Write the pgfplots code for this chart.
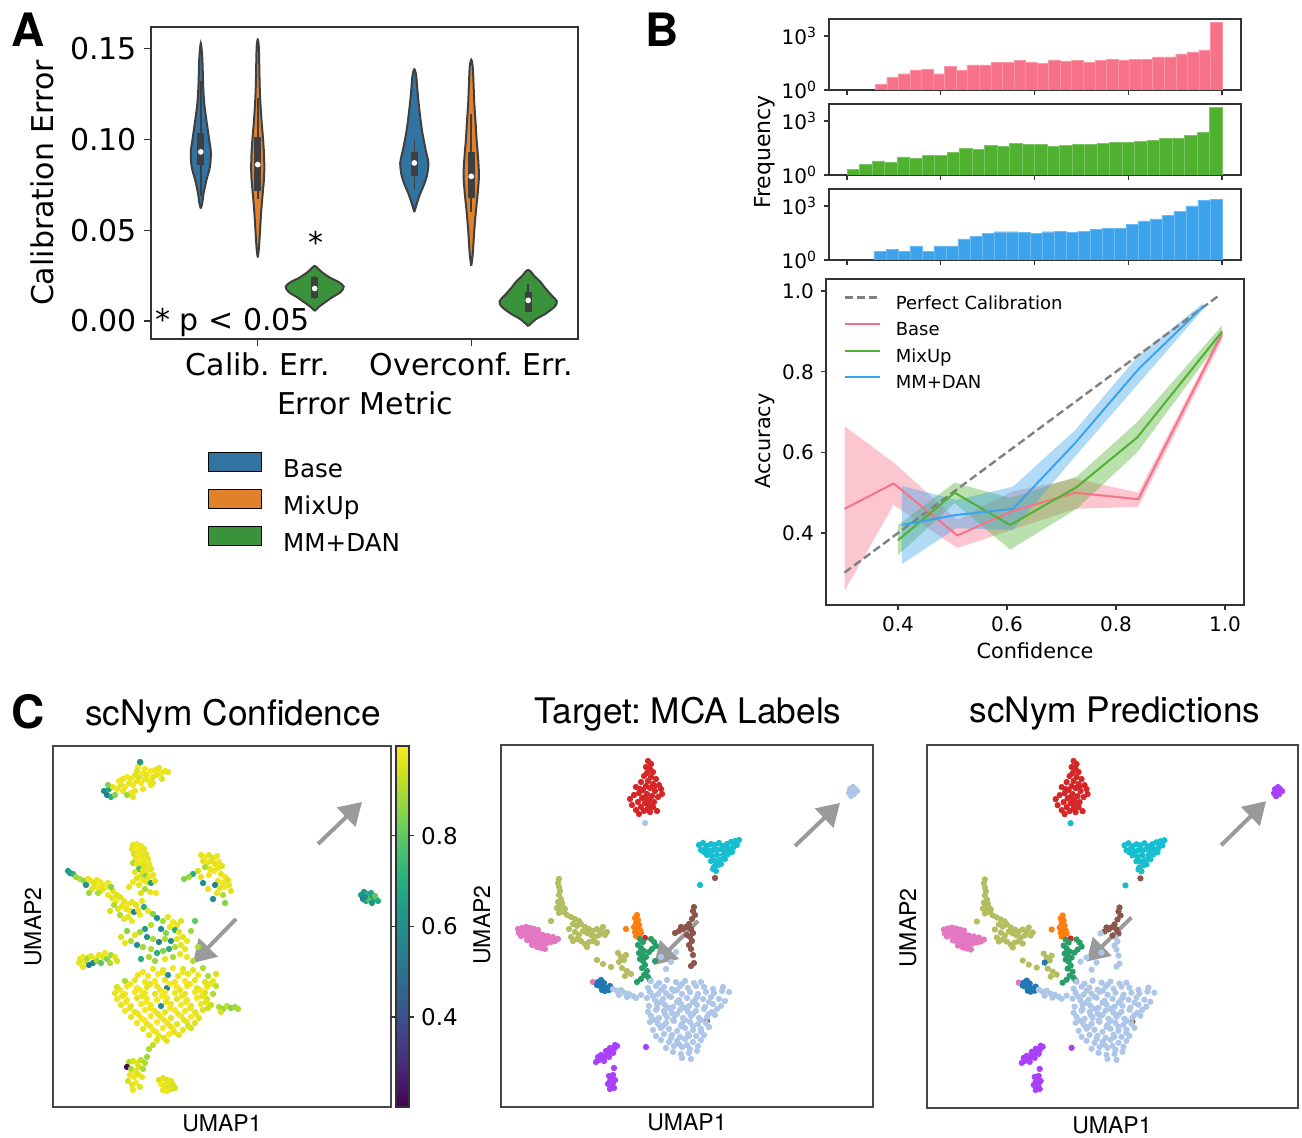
\documentclass[border=0pt]{standalone}
\usepackage{fontspec}
\setmainfont{DejaVu Sans}
\newfontfamily\heros{TeX Gyre Heros}
\usepackage{pgfplots}
\pgfplotsset{compat=1.18}
\usepackage{pgfplotstable}
\usepgfplotslibrary{colormaps}
\usetikzlibrary{arrows.meta}
\frenchspacing

\definecolor{cBase}{HTML}{3274A1}
\definecolor{cMix}{HTML}{E1812C}
\definecolor{cMM}{HTML}{3A923A}
\definecolor{vedge}{HTML}{3F3F3F}
\definecolor{hPink}{HTML}{F77189}
\definecolor{hGreen}{HTML}{50B131}
\definecolor{hBlue}{HTML}{3BA3EC}
\definecolor{frame}{HTML}{333333}
\definecolor{arr}{HTML}{9A9A9A}
\definecolor{kA}{HTML}{AEC7E8}
\definecolor{kB}{HTML}{D62728}
\definecolor{kC}{HTML}{17BECF}
\definecolor{kD}{HTML}{B5BD61}
\definecolor{kE}{HTML}{E377C2}
\definecolor{kF}{HTML}{FF7F0E}
\definecolor{kG}{HTML}{279E68}
\definecolor{kH}{HTML}{8C564B}
\definecolor{kI}{HTML}{1F77B4}
\definecolor{kJ}{HTML}{AA40FC}

\newcommand{\fA}{\fontsize{15}{18}\selectfont}
\newcommand{\fAl}{\fontsize{12.3}{14}\selectfont}
\newcommand{\fB}{\fontsize{10}{12}\selectfont}
\newcommand{\fBl}{\fontsize{9}{11}\selectfont}
\newcommand{\fC}{\heros\fontsize{17.6}{20}\selectfont}
\newcommand{\fCl}{\heros\fontsize{11.5}{13}\selectfont}
\newcommand{\fCb}{\fontsize{11.5}{13}\selectfont}

\pgfplotsset{
  panel/.style={scale only axis, axis line style={frame, line width=0.7pt},
    tick style={frame, line width=0.6pt}, tick align=outside, tick pos=left},
  histax/.style={panel, width=206pt, height=35.5pt, xmin=0.1615, xmax=1.0406,
    ymin=1, ymax=8700, ytick={1,1000},
    yticklabels={10\textsuperscript{0},10\textsuperscript{3}},
    xtick={0.2,0.4,0.6,0.8,1.0}, xticklabels={}, major tick length=2.5pt,
    tick label style={font=\fB}},
  umapax/.style={scale only axis, axis line style={frame!90, line width=0.7pt},
    xtick=\empty, ytick=\empty},
}
\tikzset{arrowst/.style={arr, line width=2pt, -{Triangle[length=11pt,width=13pt]}}}

% ---------- C1 data: UMAP coords (box units) and confidence ----------
\pgfplotstableread[row sep=\\]{
x y c\\
51 316 0.60\\54 312 0.55\\56 318 0.65\\58 310 0.70\\55 322 0.85\\
60 320 0.97\\64 318 0.98\\68 322 0.96\\72 320 0.99\\76 324 0.97\\80 322 0.98\\84 326 0.97\\88 324 0.99\\92 328 0.97\\96 326 0.98\\100 330 0.96\\104 332 0.97\\108 334 0.98\\112 336 0.97\\
66 326 0.98\\70 328 0.97\\74 330 0.99\\78 328 0.98\\82 332 0.97\\86 330 0.96\\90 334 0.98\\94 332 0.97\\98 336 0.99\\102 337 0.98\\106 339 0.97\\85 340 0.98\\88 344 0.97\\84 336 0.96\\
70 316 0.97\\78 314 0.98\\74 312 0.88\\82 316 0.97\\90 318 0.98\\98 322 0.97\\62 312 0.85\\80 310 0.97\\109 328 0.96\\115 335 0.97\\92 338 0.98\\100 324 0.97\\87 345 0.62\\
80 262 0.97\\84 263 0.98\\88 261 0.97\\79 258 0.96\\83 257 0.99\\87 256 0.98\\91 258 0.97\\81 253 0.95\\85 252 0.98\\89 251 0.97\\93 253 0.96\\83 248 0.97\\87 247 0.99\\91 246 0.98\\95 248 0.97\\
80 244 0.90\\84 243 0.98\\88 242 0.97\\92 241 0.96\\96 243 0.98\\86 238 0.75\\90 237 0.97\\94 236 0.98\\98 238 0.96\\82 235 0.97\\88 232 0.97\\92 231 0.85\\96 230 0.98\\100 232 0.97\\
84 229 0.96\\90 227 0.98\\94 225 0.97\\98 224 0.65\\102 226 0.96\\86 222 0.97\\80 225 0.98\\76 220 0.97\\92 218 0.90\\97 215 0.97\\103 214 0.98\\88 214 0.96\\
17 234 0.60\\20 233 0.70\\15 236 0.65\\23 230 0.88\\27 228 0.90\\31 226 0.85\\35 228 0.97\\38 226 0.98\\41 224 0.96\\44 227 0.97\\47 225 0.98\\42 221 0.97\\46 219 0.98\\50 222 0.97\\53 220 0.99\\
49 217 0.96\\45 214 0.90\\39 218 0.97\\55 224 0.98\\33 222 0.60\\60 216 0.97\\64 212 0.96\\58 220 0.85\\36 214 0.88\\
55 212 0.98\\59 209 0.97\\63 206 0.99\\67 210 0.96\\71 206 0.97\\75 203 0.98\\69 201 0.97\\65 198 0.96\\73 198 0.97\\77 196 0.98\\61 202 0.90\\57 196 0.95\\79 205 0.97\\83 202 0.96\\
81 195 0.55\\85 197 0.97\\87 192 0.98\\75 190 0.97\\67 192 0.90\\71 188 0.97\\79 186 0.98\\89 206 0.97\\91 200 0.70\\95 196 0.97\\
148 252 0.97\\152 250 0.98\\156 252 0.97\\160 249 0.96\\164 251 0.98\\150 246 0.97\\154 244 0.98\\158 246 0.97\\162 243 0.96\\166 245 0.98\\152 240 0.90\\157 238 0.97\\161 236 0.98\\165 239 0.97\\
169 241 0.96\\145 236 0.95\\140 233 0.70\\136 230 0.88\\131 228 0.85\\148 230 0.97\\156 232 0.98\\168 233 0.97\\172 230 0.98\\165 226 0.97\\170 224 0.98\\175 227 0.96\\162 222 0.55\\
167 219 0.97\\172 220 0.98\\176 222 0.97\\178 216 0.96\\164 214 0.97\\170 212 0.90\\160 208 0.60\\155 218 0.97\\150 224 0.60\\172 204 0.85\\
100 193 0.85\\104 189 0.60\\110 186 0.90\\115 190 0.97\\120 185 0.98\\124 182 0.97\\128 186 0.96\\117 180 0.97\\122 177 0.70\\126 175 0.97\\113 174 0.85\\108 178 0.60\\98 182 0.92\\
92 178 0.65\\87 175 0.88\\82 172 0.97\\94 170 0.60\\100 168 0.90\\106 165 0.55\\112 168 0.90\\118 166 0.60\\124 168 0.97\\130 170 0.96\\134 166 0.98\\128 162 0.97\\132 158 0.97\\
122 160 0.90\\116 158 0.70\\110 156 0.85\\104 154 0.70\\98 158 0.90\\90 160 0.88\\84 162 0.60\\78 166 0.90\\72 164 0.97\\68 170 0.95\\74 176 0.85\\96 150 0.90\\102 146 0.88\\
88 148 0.70\\112 148 0.97\\120 150 0.90\\127 153 0.97\\134 150 0.98\\140 146 0.90\\145 160 0.90\\138 176 0.88\\142 186 0.80\\
27 148 0.97\\30 150 0.98\\26 144 0.97\\32 146 0.96\\35 149 0.90\\38 151 0.97\\42 148 0.98\\46 152 0.97\\40 144 0.60\\36 142 0.55\\44 146 0.90\\50 150 0.97\\54 148 0.85\\
58 152 0.88\\62 150 0.97\\48 144 0.80\\57 144 0.90\\64 146 0.95\\30 140 0.97\\52 154 0.98\\
100 138 0.98\\110 137 0.97\\120 139 0.99\\130 138 0.96\\140 137 0.97\\150 139 0.90\\
85 132 0.97\\95 131 0.98\\105 133 0.99\\115 132 0.60\\125 131 0.98\\135 133 0.97\\145 132 0.98\\155 131 0.90\\163 133 0.95\\
72 126 0.90\\82 127 0.97\\92 125 0.98\\102 126 0.99\\112 127 0.97\\122 125 0.98\\132 126 0.99\\142 127 0.97\\152 125 0.96\\160 126 0.98\\
64 120 0.95\\74 121 0.98\\84 119 0.99\\94 120 0.97\\104 121 0.98\\114 119 0.55\\124 120 0.99\\134 121 0.98\\144 119 0.97\\154 120 0.98\\163 121 0.92\\
62 114 0.97\\72 113 0.98\\82 115 0.99\\92 114 0.98\\102 113 0.97\\112 115 0.99\\122 114 0.98\\132 113 0.97\\142 115 0.98\\152 114 0.96\\160 113 0.90\\
64 108 0.98\\74 107 0.99\\84 109 0.97\\94 108 0.98\\104 107 0.99\\114 109 0.98\\124 108 0.97\\134 107 0.98\\144 109 0.99\\154 108 0.95\\
68 102 0.97\\78 101 0.98\\88 103 0.99\\98 102 0.98\\108 101 0.60\\118 103 0.98\\128 102 0.99\\138 101 0.97\\148 103 0.98\\158 102 0.93\\
72 96 0.98\\82 95 0.97\\92 97 0.99\\102 96 0.98\\112 95 0.97\\122 97 0.99\\132 96 0.98\\142 95 0.97\\150 97 0.95\\
78 90 0.97\\88 89 0.98\\98 91 0.99\\108 90 0.98\\118 89 0.97\\128 91 0.98\\138 90 0.99\\146 89 0.96\\
84 84 0.98\\94 83 0.97\\104 85 0.99\\114 84 0.98\\124 83 0.97\\134 85 0.98\\142 84 0.96\\
90 78 0.97\\100 77 0.98\\110 79 0.99\\120 78 0.98\\130 77 0.97\\138 79 0.95\\
96 72 0.97\\106 71 0.98\\116 73 0.99\\126 72 0.97\\104 67 0.96\\114 66 0.97\\
90 135 0.98\\110 135 0.97\\130 135 0.98\\77 123 0.98\\97 123 0.97\\117 123 0.99\\137 123 0.98\\157 123 0.97\\67 117 0.98\\87 117 0.99\\107 117 0.98\\127 117 0.97\\147 117 0.98\\
69 111 0.97\\89 111 0.98\\109 111 0.99\\129 111 0.98\\149 111 0.97\\73 105 0.98\\93 105 0.99\\113 105 0.97\\133 105 0.98\\153 105 0.96\\77 99 0.97\\97 99 0.98\\117 99 0.99\\
137 99 0.98\\155 99 0.94\\85 93 0.98\\105 93 0.97\\125 93 0.98\\143 93 0.97\\91 87 0.99\\111 87 0.98\\131 87 0.97\\97 81 0.98\\117 81 0.97\\135 81 0.96\\103 75 0.98\\121 75 0.97\\111 69 0.96\\
166 100 0.90\\170 98 0.88\\174 101 0.92\\178 99 0.85\\182 100 0.88\\185 98 0.90\\168 95 0.95\\
76 45 0.90\\80 46 0.95\\84 44 0.97\\88 47 0.92\\74 40 0.22\\78 38 0.88\\82 36 0.97\\86 40 0.95\\90 38 0.90\\77 32 0.97\\81 30 0.98\\85 33 0.96\\89 30 0.97\\75 26 0.95\\79 22 0.97\\
83 24 0.98\\87 20 0.96\\80 17 0.97\\92 44 0.90\\94 50 0.88\\
106 27 0.95\\110 29 0.97\\114 27 0.96\\118 26 0.97\\108 23 0.98\\112 22 0.97\\116 21 0.96\\120 22 0.95\\110 17 0.97\\114 16 0.98\\118 18 0.96\\122 19 0.95\\100 62 0.92\\96 58 0.90\\
308 212 0.65\\311 215 0.60\\314 213 0.70\\317 211 0.75\\320 209 0.60\\323 208 0.72\\325 206 0.68\\310 208 0.55\\313 206 0.65\\316 207 0.78\\319 204 0.62\\312 210 0.58\\318 214 0.66\\322 211 0.80\\
}\confdat

% ---------- C2/C3 data: UMAP coords, MCA label (l), scNym prediction (p) ----------
\pgfplotstableread[row sep=\\]{
x y l p\\
147 346 b b\\150 343 b b\\145 340 b b\\149 338 b b\\152 335 b b\\146 334 b b\\143 331 b b\\150 330 b b\\155 328 b b\\147 326 b b\\140 325 b b\\152 323 b b\\158 322 b b\\145 321 b b\\
135 320 b b\\149 319 b b\\142 317 b b\\154 316 b b\\160 318 b b\\138 314 b b\\146 313 b b\\151 311 b b\\157 310 b b\\133 312 b b\\141 309 b b\\148 307 b b\\144 304 b b\\137 305 b b\\
153 305 b b\\131 302 b b\\140 300 b b\\147 299 b b\\152 300 b b\\135 297 b b\\143 296 b b\\149 295 b b\\138 293 b b\\156 296 b b\\129 308 b b\\161 313 b b\\144 310 b b\\139 318 b b\\
153 320 b b\\148 302 b b\\144 284 a c\\
348 314 a j\\351 316 a j\\354 318 a j\\350 311 a j\\353 313 a j\\356 316 a j\\349 318 a j\\352 320 a j\\
198 262 c c\\202 264 c c\\206 261 c c\\210 263 c c\\214 262 c c\\218 264 c c\\222 261 c c\\226 263 c c\\230 265 c c\\234 266 c c\\238 267 c c\\236 262 c c\\232 259 c c\\228 258 c c\\
224 256 c c\\220 258 c c\\216 257 c c\\212 257 c c\\208 256 c c\\204 258 c c\\200 257 c c\\206 252 c c\\211 251 c c\\216 252 c c\\222 252 c c\\227 253 c c\\231 255 c c\\219 247 c c\\
214 246 c c\\224 248 c c\\210 246 c c\\217 242 c c\\213 240 c c\\220 243 c c\\215 236 c c\\212 238 c c\\203 255 c c\\233 262 c c\\225 260 c c\\199 222 c c\\214 229 h h\\
58 228 d d\\57 224 d d\\58 220 d d\\59 216 d d\\58 212 d d\\60 208 d d\\57 205 d d\\59 202 d d\\61 204 d d\\62 200 d d\\56 199 d d\\60 197 d d\\64 198 d d\\63 195 d d\\58 194 d d\\66 192 d d\\
70 190 d d\\74 188 d d\\78 186 d d\\72 183 d d\\76 181 d d\\80 183 d d\\84 180 d d\\88 178 d d\\92 176 d d\\96 178 d d\\100 176 d d\\104 172 d d\\98 172 d d\\94 170 d d\\90 172 d d\\
86 174 d d\\82 176 d d\\78 172 d d\\74 175 d d\\70 170 d d\\72 166 d d\\76 168 d d\\80 166 d d\\84 163 d d\\88 165 d d\\92 166 d d\\96 164 d d\\86 160 d d\\68 178 d d\\102 180 d d\\
106 175 d d\\50 186 d d\\
117 154 d d\\120 150 d d\\123 147 d d\\118 145 d i\\125 152 d d\\96 147 d d\\102 143 d d\\110 140 d d\\121 139 d d\\126 136 d d\\130 133 d d\\124 131 d d\\
17 178 e e\\21 179 e e\\25 180 e e\\29 179 e e\\33 178 e e\\37 177 e e\\18 174 e e\\22 175 e e\\26 176 e e\\30 175 e e\\34 174 e e\\38 173 e e\\42 172 e e\\20 171 e e\\24 172 e e\\
28 171 e e\\32 170 e e\\36 169 e e\\40 168 e e\\44 168 e e\\48 167 e e\\26 167 e e\\30 166 e e\\34 165 e e\\38 164 e e\\42 163 e e\\46 164 e e\\50 165 e e\\54 166 e e\\36 160 e e\\
40 159 e e\\44 158 e e\\31 162 e e\\47 171 e e\\52 170 e e\\57 168 e e\\92 125 e e\\
136 192 f f\\134 189 f f\\137 187 f f\\135 184 f f\\138 182 f f\\133 180 f f\\136 178 f f\\139 177 f f\\134 175 f f\\137 173 f f\\140 174 f f\\135 171 f f\\125 178 f f\\144 169 b b\\
139 168 g g\\142 165 g g\\137 162 g g\\140 159 g g\\143 156 g g\\138 154 g g\\141 152 g g\\145 150 g g\\139 148 g g\\142 146 g g\\150 168 g g\\153 165 g g\\155 161 g g\\151 158 g g\\
148 155 g g\\144 142 g g\\141 139 g g\\146 136 g g\\143 132 g g\\140 128 g g\\147 130 g g\\149 127 g g\\136 125 g g\\154 146 g a\\
193 200 h h\\192 196 h h\\194 192 h h\\191 188 h h\\188 183 h h\\185 180 h h\\182 178 h h\\178 176 h h\\174 174 h a\\190 178 h h\\192 174 h h\\189 170 h a\\191 166 h a\\188 162 h a\\
190 158 h a\\192 152 h a\\193 144 h a\\190 141 h a\\186 172 h h\\180 180 h h\\206 86 h h\\
160 150 a a\\170 145 a a\\165 138 a a\\175 155 a a\\
97 125 i i\\100 127 i i\\103 124 i i\\99 121 i i\\102 120 i i\\106 119 i i\\104 116 i i\\108 117 i i\\101 117 i i\\96 122 i i\\109 121 i i\\
112 118 a a\\116 116 a a\\120 117 a a\\124 114 a a\\128 113 a a\\132 111 a a\\118 112 a a\\126 110 a a\\135 109 a a\\140 112 a a\\
150 126 a a\\158 124 a a\\166 127 a a\\175 125 a a\\184 126 a a\\193 124 a a\\200 125 a a\\
147 119 a a\\155 121 a a\\163 120 a a\\171 118 a a\\179 121 a a\\187 119 a a\\195 121 a a\\203 120 a a\\212 118 a a\\222 120 a a\\
149 115 a a\\157 113 a a\\165 114 a a\\173 116 a a\\181 113 a a\\189 115 a a\\197 113 a a\\205 115 a a\\213 114 a a\\221 116 a a\\228 115 a a\\
146 109 a a\\154 107 a a\\162 108 a a\\170 110 a a\\178 107 a a\\186 109 a a\\194 107 a a\\202 108 a a\\210 110 a a\\218 108 a a\\
148 101 a a\\156 103 a a\\164 102 a a\\172 100 a a\\180 103 a a\\188 101 a a\\196 102 a a\\204 100 a a\\212 103 a a\\220 101 a a\\
147 95 a a\\155 97 a a\\163 96 a a\\171 94 a a\\179 97 a a\\187 95 a a\\195 96 a a\\203 98 a a\\211 95 a a\\
150 91 a a\\158 89 a a\\166 90 a a\\174 92 a a\\182 89 a a\\190 91 a a\\198 89 a a\\206 90 a a\\214 92 a a\\
149 85 a a\\157 83 a a\\165 84 a a\\173 86 a a\\181 83 a a\\189 85 a a\\197 83 a a\\205 84 a a\\
152 77 a a\\160 79 a a\\168 78 a a\\176 76 a a\\184 79 a a\\192 77 a a\\200 78 a a\\208 80 a a\\
155 71 a a\\163 73 a a\\171 72 a a\\179 70 a a\\187 73 a a\\195 71 a a\\203 72 a a\\
160 67 a a\\168 65 a a\\176 66 a a\\184 68 a a\\192 65 a a\\200 67 a a\\165 59 a a\\173 61 a a\\181 60 a a\\189 58 a a\\197 61 a a\\172 55 a a\\180 53 a a\\188 54 a a\\196 56 a a\\181 49 a a\\190 48 a a\\
152 111 a a\\160 105 a a\\168 99 a a\\176 93 a a\\184 87 a a\\192 81 a a\\200 75 a a\\188 71 a a\\180 81 a a\\172 87 a a\\164 93 a a\\156 99 a a\\208 93 a a\\216 98 a a\\200 87 a a\\
192 93 a a\\184 99 a a\\176 105 a a\\168 111 a a\\160 117 a a\\176 117 a a\\192 105 a a\\208 105 a a\\224 106 a a\\186 62 a a\\178 63 a a\\170 69 a a\\162 81 a a\\154 87 a a\\196 110 a a\\181 123 a a\\
95 45 j j\\98 47 j j\\101 49 j j\\104 51 j j\\107 53 j j\\110 55 j j\\113 58 j j\\116 61 j j\\100 52 j j\\105 56 j j\\109 59 j j\\112 54 j j\\103 46 j j\\97 50 j j\\108 50 j j\\114 62 j j\\
108 31 j j\\111 29 j j\\109 26 j j\\112 24 j j\\110 21 j j\\113 19 j j\\109 18 j j\\114 27 j j\\107 23 j j\\112 32 j j\\113 39 j j\\145 60 j j\\
}\clsdat

\pgfplotsset{
  clsstyle/.style={scatter, only marks, mark=*, mark size=1.35pt,
    scatter src=explicit symbolic,
    scatter/classes={
      a={mark=*, fill=kA, draw=kA},
      b={mark=*, fill=kB, draw=kB},
      c={mark=*, fill=kC, draw=kC},
      d={mark=*, fill=kD, draw=kD},
      e={mark=*, fill=kE, draw=kE},
      f={mark=*, fill=kF, draw=kF},
      g={mark=*, fill=kG, draw=kG},
      h={mark=*, fill=kH, draw=kH},
      i={mark=*, fill=kI, draw=kI},
      j={mark=*, fill=kJ, draw=kJ}}},
}

\begin{document}
\begin{tikzpicture}
\path[use as bounding box] (0,0) rectangle (651pt,-569pt);

% ================= Panel A =================
\begin{axis}[panel, at={(75.5pt,-169.5pt)}, anchor=south west,
  width=213.5pt, height=156pt,
  xmin=-0.5, xmax=1.5, ymin=-0.0099, ymax=0.162,
  xtick={0,1}, xticklabels={Calib. Err., Overconf. Err.},
  ytick={0,0.05,0.1,0.15}, yticklabels={0.00,0.05,0.10,0.15},
  major tick length=3.5pt, tick label style={font=\fA},
  legend style={at={(axis description cs:0.1335,-0.362)}, anchor=north west,
    draw=none, fill=none, inner sep=0pt, font=\fAl, row sep=3pt, column sep=10.5pt,
    nodes={inner sep=0pt, text height=9pt, text depth=3pt}},
  legend cell align=left,
  legend image code/.code={\fill[#1] (0pt,-0.25pt) rectangle (26.5pt,9.25pt);}]
% violins
\addplot[forget plot, fill=cBase, draw=vedge, line width=1pt, smooth, tension=0.5] coordinates {
(-0.2667,0.062) (-0.2597,0.065) (-0.2542,0.070) (-0.2397,0.078) (-0.2237,0.085) (-0.2197,0.093) (-0.2277,0.100) (-0.2397,0.110) (-0.2507,0.120) (-0.2557,0.130) (-0.2597,0.145) (-0.2667,0.153)
(-0.2737,0.145) (-0.2777,0.130) (-0.2827,0.120) (-0.2937,0.110) (-0.3057,0.100) (-0.3137,0.093) (-0.3097,0.085) (-0.2937,0.078) (-0.2792,0.070) (-0.2737,0.065) (-0.2667,0.062)};
\addplot[forget plot, fill=cMix, draw=vedge, line width=1pt, smooth, tension=0.5] coordinates {
(0,0.035) (0.0054,0.04) (0.0108,0.05) (0.016,0.06) (0.023,0.07) (0.030,0.08) (0.030,0.09) (0.025,0.10) (0.018,0.11) (0.0125,0.12) (0.009,0.13) (0.0054,0.15) (0,0.155)
(-0.0054,0.15) (-0.009,0.13) (-0.0125,0.12) (-0.018,0.11) (-0.025,0.10) (-0.030,0.09) (-0.030,0.08) (-0.023,0.07) (-0.016,0.06) (-0.0108,0.05) (-0.0054,0.04) (0,0.035)};
\addplot[forget plot, fill=cMM, draw=vedge, line width=1pt, smooth, tension=0.5] coordinates {
(0.2667,0.0055) (0.2882,0.008) (0.3117,0.010) (0.3477,0.013) (0.3887,0.016) (0.4027,0.019) (0.3787,0.0215) (0.3367,0.024) (0.2997,0.027) (0.2817,0.029) (0.2667,0.0304)
(0.2517,0.029) (0.2337,0.027) (0.1967,0.024) (0.1547,0.0215) (0.1307,0.019) (0.1447,0.016) (0.1857,0.013) (0.2217,0.010) (0.2452,0.008) (0.2667,0.0055)};
\addplot[forget plot, fill=cBase, draw=vedge, line width=1pt, smooth, tension=0.5] coordinates {
(0.7333,0.060) (0.7458,0.065) (0.7603,0.070) (0.7783,0.075) (0.7923,0.080) (0.7993,0.087) (0.7853,0.095) (0.7693,0.105) (0.7583,0.115) (0.7493,0.125) (0.7423,0.135) (0.7333,0.1387)
(0.7243,0.135) (0.7173,0.125) (0.7083,0.115) (0.6973,0.105) (0.6813,0.095) (0.6673,0.087) (0.6743,0.080) (0.6883,0.075) (0.7063,0.070) (0.7208,0.065) (0.7333,0.060)};
\addplot[forget plot, fill=cMix, draw=vedge, line width=1pt, smooth, tension=0.5] coordinates {
(1,0.0304) (1.0054,0.035) (1.009,0.04) (1.0143,0.05) (1.0215,0.06) (1.030,0.07) (1.036,0.08) (1.032,0.09) (1.025,0.10) (1.020,0.11) (1.0143,0.12) (1.011,0.13) (1.007,0.14) (1,0.144)
(0.993,0.14) (0.989,0.13) (0.9857,0.12) (0.980,0.11) (0.975,0.10) (0.968,0.09) (0.964,0.08) (0.970,0.07) (0.9785,0.06) (0.9857,0.05) (0.991,0.04) (0.9946,0.035) (1,0.0304)};
\addplot[forget plot, fill=cMM, draw=vedge, line width=1pt, smooth, tension=0.5] coordinates {
(1.2667,-0.0028) (1.3027,0.001) (1.3477,0.004) (1.3917,0.008) (1.4007,0.011) (1.3777,0.014) (1.3477,0.018) (1.3207,0.022) (1.2937,0.025) (1.2807,0.027) (1.2667,0.0282)
(1.2527,0.027) (1.2397,0.025) (1.2127,0.022) (1.1857,0.018) (1.1557,0.014) (1.1327,0.011) (1.1417,0.008) (1.1857,0.004) (1.2307,0.001) (1.2667,-0.0028)};
% inner boxes: whiskers, quartile boxes, medians
\addplot[forget plot, vedge, line width=0.8pt] coordinates {(-0.2667,0.069) (-0.2667,0.132)};
\addplot[forget plot, vedge, line width=3.6pt] coordinates {(-0.2667,0.0862) (-0.2667,0.1037)};
\addplot[forget plot, vedge, line width=0.8pt] coordinates {(0,0.067) (0,0.123)};
\addplot[forget plot, vedge, line width=3.6pt] coordinates {(0,0.0714) (0,0.1015)};
\addplot[forget plot, vedge, line width=0.8pt] coordinates {(0.2667,0.012) (0.2667,0.025)};
\addplot[forget plot, vedge, line width=3.6pt] coordinates {(0.2667,0.0129) (0.2667,0.024)};
\addplot[forget plot, vedge, line width=0.8pt] coordinates {(0.7333,0.073) (0.7333,0.100)};
\addplot[forget plot, vedge, line width=3.6pt] coordinates {(0.7333,0.0797) (0.7333,0.0932)};
\addplot[forget plot, vedge, line width=0.8pt] coordinates {(1,0.060) (1,0.114)};
\addplot[forget plot, vedge, line width=3.6pt] coordinates {(1,0.0677) (1,0.0932)};
\addplot[forget plot, vedge, line width=0.8pt] coordinates {(1.2667,0.005) (1.2667,0.0203)};
\addplot[forget plot, vedge, line width=3.6pt] coordinates {(1.2667,0.0052) (1.2667,0.016)};
\addplot[forget plot, only marks, mark=*, mark size=1.2pt, fill=white, draw=white] coordinates {
(-0.2667,0.0932) (0,0.0862) (0.2667,0.0179) (0.7333,0.0871) (1,0.0797) (1.2667,0.0114)};
\addlegendimage{fill=cBase}\addlegendentry{Base}
\addlegendimage{fill=cMix}\addlegendentry{MixUp}
\addlegendimage{fill=cMM}\addlegendentry{MM+DAN}
\end{axis}
\node[font=\heros\bfseries\fontsize{23}{26}\selectfont] at (14pt,-15pt) {A};
\node[rotate=90, font=\fA] at (21pt,-91.5pt) {Calibration Error};
\node[font=\fA] at (182.5pt,-201.5pt) {Error Metric};
\node[font=\fA, anchor=base west, inner sep=0pt] at (77.5pt,-165.5pt) {* p < 0.05};
\node[font=\fA, anchor=base, inner sep=0pt] at (158pt,-127pt) {*};

% ================= Panel B histograms =================
\begin{axis}[histax, ymode=log, at={(414.5pt,-45pt)}, anchor=south west]
\addplot[ybar interval, fill=hPink, draw=hPink!75!white, line width=0.2pt] coordinates {
(0.2600,2)(0.2847,5)(0.3093,8)(0.3340,13)(0.3587,14)(0.3833,8)(0.4080,20)(0.4327,13)(0.4573,25)(0.4820,25)(0.5067,33)(0.5313,35)(0.5560,43)(0.5807,35)(0.6053,30)
(0.6300,47)(0.6547,39)(0.6793,43)(0.7040,35)(0.7287,45)(0.7533,51)(0.7780,47)(0.8027,51)(0.8273,49)(0.8520,69)(0.8767,69)(0.9013,102)(0.9260,132)(0.9507,170)(0.9753,5600)(1.0000,5600)};
\end{axis}
\begin{axis}[histax, ymode=log, at={(414.5pt,-87.5pt)}, anchor=south west]
\addplot[ybar interval, fill=hGreen, draw=hGreen!75!white, line width=0.2pt] coordinates {
(0.2000,2)(0.2267,4)(0.2533,6)(0.2800,5)(0.3067,10)(0.3333,9)(0.3600,12)(0.3867,12)(0.4133,18)(0.4400,31)(0.4667,26)(0.4933,46)(0.5200,40)(0.5467,59)(0.5733,50)
(0.6000,50)(0.6267,40)(0.6533,46)(0.6800,50)(0.7067,52)(0.7333,56)(0.7600,62)(0.7867,62)(0.8133,74)(0.8400,87)(0.8667,105)(0.8933,115)(0.9200,162)(0.9467,229)(0.9733,5900)(1.0000,5900)};
\end{axis}
\begin{axis}[histax, ymode=log, at={(414.5pt,-130pt)}, anchor=south west]
\addplot[ybar interval, fill=hBlue, draw=hBlue!75!white, line width=0.2pt] coordinates {
(0.2570,3)(0.2826,4)(0.3082,3)(0.3339,6)(0.3595,3)(0.3851,6)(0.4107,6)(0.4363,15)(0.4620,20)(0.4876,30)(0.5132,37)(0.5388,37)(0.5645,34)(0.5901,30)(0.6157,37)
(0.6413,38)(0.6669,34)(0.6926,40)(0.7182,50)(0.7438,59)(0.7694,59)(0.7950,91)(0.8207,148)(0.8463,191)(0.8719,295)(0.8975,501)(0.9232,1000)(0.9488,2090)(0.9744,2290)(1.0000,2290)};
\end{axis}

% ================= Panel B reliability =================
\begin{axis}[panel, at={(413pt,-302.5pt)}, anchor=south west,
  width=209pt, height=163pt,
  xmin=0.268, xmax=1.035, ymin=0.2216, ymax=1.03,
  xtick={0.4,0.6,0.8,1.0}, xticklabels={0.4,0.6,0.8,1.0},
  ytick={0.4,0.6,0.8,1.0}, yticklabels={0.4,0.6,0.8,1.0},
  major tick length=2.5pt, tick label style={font=\fB},
  legend style={at={(axis description cs:0.0407,0.952)}, anchor=north west,
    draw=none, fill=none, inner sep=0pt, font=\fBl, row sep=4.3pt, column sep=7.5pt,
    nodes={inner sep=0pt, text height=7pt, text depth=2pt}},
  legend cell align=left,
  legend image code/.code={\draw[#1] (0pt,3.2pt) -- (17.5pt,3.2pt);}]
\addplot[forget plot, fill=hPink, fill opacity=0.4, draw=none] coordinates {
(0.302,0.665)(0.392,0.575)(0.509,0.433)(0.609,0.503)(0.725,0.535)(0.841,0.50)(0.995,0.905)
(0.995,0.88)(0.841,0.465)(0.725,0.46)(0.609,0.408)(0.509,0.363)(0.392,0.47)(0.302,0.256)};
\addplot[forget plot, fill=hGreen, fill opacity=0.4, draw=none] coordinates {
(0.40,0.42)(0.504,0.525)(0.606,0.487)(0.728,0.54)(0.839,0.675)(0.995,0.915)
(0.995,0.885)(0.839,0.60)(0.728,0.46)(0.606,0.359)(0.504,0.474)(0.40,0.345)};
\addplot[forget plot, fill=hBlue, fill opacity=0.4, draw=none] coordinates {
(0.407,0.517)(0.507,0.482)(0.611,0.515)(0.725,0.655)(0.841,0.84)(0.96,0.97)
(0.96,0.955)(0.841,0.77)(0.725,0.59)(0.611,0.408)(0.507,0.412)(0.407,0.323)};
\addplot[color=gray, line width=1.2pt, dash pattern=on 4pt off 2pt] coordinates {
(0.302,0.302)(0.40,0.40)(0.51,0.51)(0.61,0.61)(0.725,0.725)(0.84,0.84)(0.99,0.99)};
\addlegendentry{Perfect Calibration}
\addplot[color=hPink, line width=1pt] coordinates {
(0.302,0.46)(0.392,0.523)(0.509,0.394)(0.609,0.454)(0.725,0.50)(0.841,0.484)(0.995,0.895)};
\addlegendentry{Base}
\addplot[color=hGreen, line width=1pt] coordinates {
(0.40,0.382)(0.504,0.50)(0.606,0.42)(0.728,0.514)(0.839,0.637)(0.995,0.90)};
\addlegendentry{MixUp}
\addplot[color=hBlue, line width=1pt] coordinates {
(0.407,0.42)(0.507,0.445)(0.611,0.46)(0.725,0.623)(0.841,0.806)(0.96,0.962)};
\addlegendentry{MM+DAN}
\end{axis}
\node[font=\heros\bfseries\fontsize{23}{26}\selectfont] at (331pt,-15pt) {B};
\node[rotate=90, font=\fontsize{11}{13}\selectfont] at (382.5pt,-76pt) {Frequency};
\node[rotate=90, font=\fontsize{10.4}{12}\selectfont] at (382.5pt,-220.5pt) {Accuracy};
\node[font=\fontsize{10.4}{12}\selectfont] at (517.5pt,-325.5pt) {Confidence};

% ================= Panel C =================
\begin{axis}[umapax, at={(26.5pt,-553.5pt)}, anchor=south west,
  width=169pt, height=180.5pt, xmin=0, xmax=338, ymin=0, ymax=361,
  colormap/viridis, point meta min=0.2016, point meta max=0.998,
  colorbar,
  colorbar style={at={(parent axis.north east)}, anchor=north west, xshift=-6pt,
    scale only axis, width=6.5pt, height=180.5pt,
    ytick={0.4,0.6,0.8}, yticklabels={0.4,0.6,0.8},
    yticklabel style={font=\fCb}, major tick length=2.5pt, tick align=outside,
    axis line style={frame, line width=0.6pt}, tick style={frame, line width=0.6pt}}]
\addplot[scatter, only marks, mark=*, mark size=1.35pt, scatter src=explicit,
  scatter/use mapped color={draw=mapped color, fill=mapped color}]
  table[x=x, y=y, meta=c] \confdat;
\draw[arrowst] (axis cs:265,263) -- (axis cs:309,305);
\draw[arrowst] (axis cs:183,188) -- (axis cs:140,144);
\end{axis}

\begin{axis}[umapax, at={(250.5pt,-553.5pt)}, anchor=south west,
  width=186pt, height=181pt, xmin=0, xmax=372, ymin=0, ymax=362]
\addplot[clsstyle] table[x=x, y=y, meta=l] \clsdat;
\draw[arrowst] (axis cs:294,261) -- (axis cs:339,304);
\draw[arrowst] (axis cs:197,186) -- (axis cs:153,142);
\end{axis}

\begin{axis}[umapax, at={(463.5pt,-554pt)}, anchor=south west,
  width=185.5pt, height=181.5pt, xmin=0, xmax=372, ymin=0, ymax=362]
\addplot[clsstyle] table[x=x, y=y, meta=p] \clsdat;
\draw[arrowst] (axis cs:295,262) -- (axis cs:340,306);
\draw[arrowst] (axis cs:205,190) -- (axis cs:160,146);
\end{axis}

\node[font=\heros\bfseries\fontsize{23}{26}\selectfont] at (14pt,-356pt) {C};
\node[font=\fC] at (116.5pt,-358pt) {scNym Confidence};
\node[font=\fC] at (344pt,-357pt) {Target: MCA Labels};
\node[font=\fC] at (557.5pt,-357pt) {scNym Predictions};
\node[font=\fCl] at (111pt,-561.5pt) {UMAP1};
\node[font=\fCl] at (343.5pt,-561pt) {UMAP1};
\node[font=\fCl] at (556pt,-562.5pt) {UMAP1};
\node[font=\fCl, rotate=90] at (16.5pt,-463.5pt) {UMAP2};
\node[font=\fCl, rotate=90] at (241pt,-462.5pt) {UMAP2};
\node[font=\fCl, rotate=90] at (454pt,-464pt) {UMAP2};
\end{tikzpicture}
\end{document}
